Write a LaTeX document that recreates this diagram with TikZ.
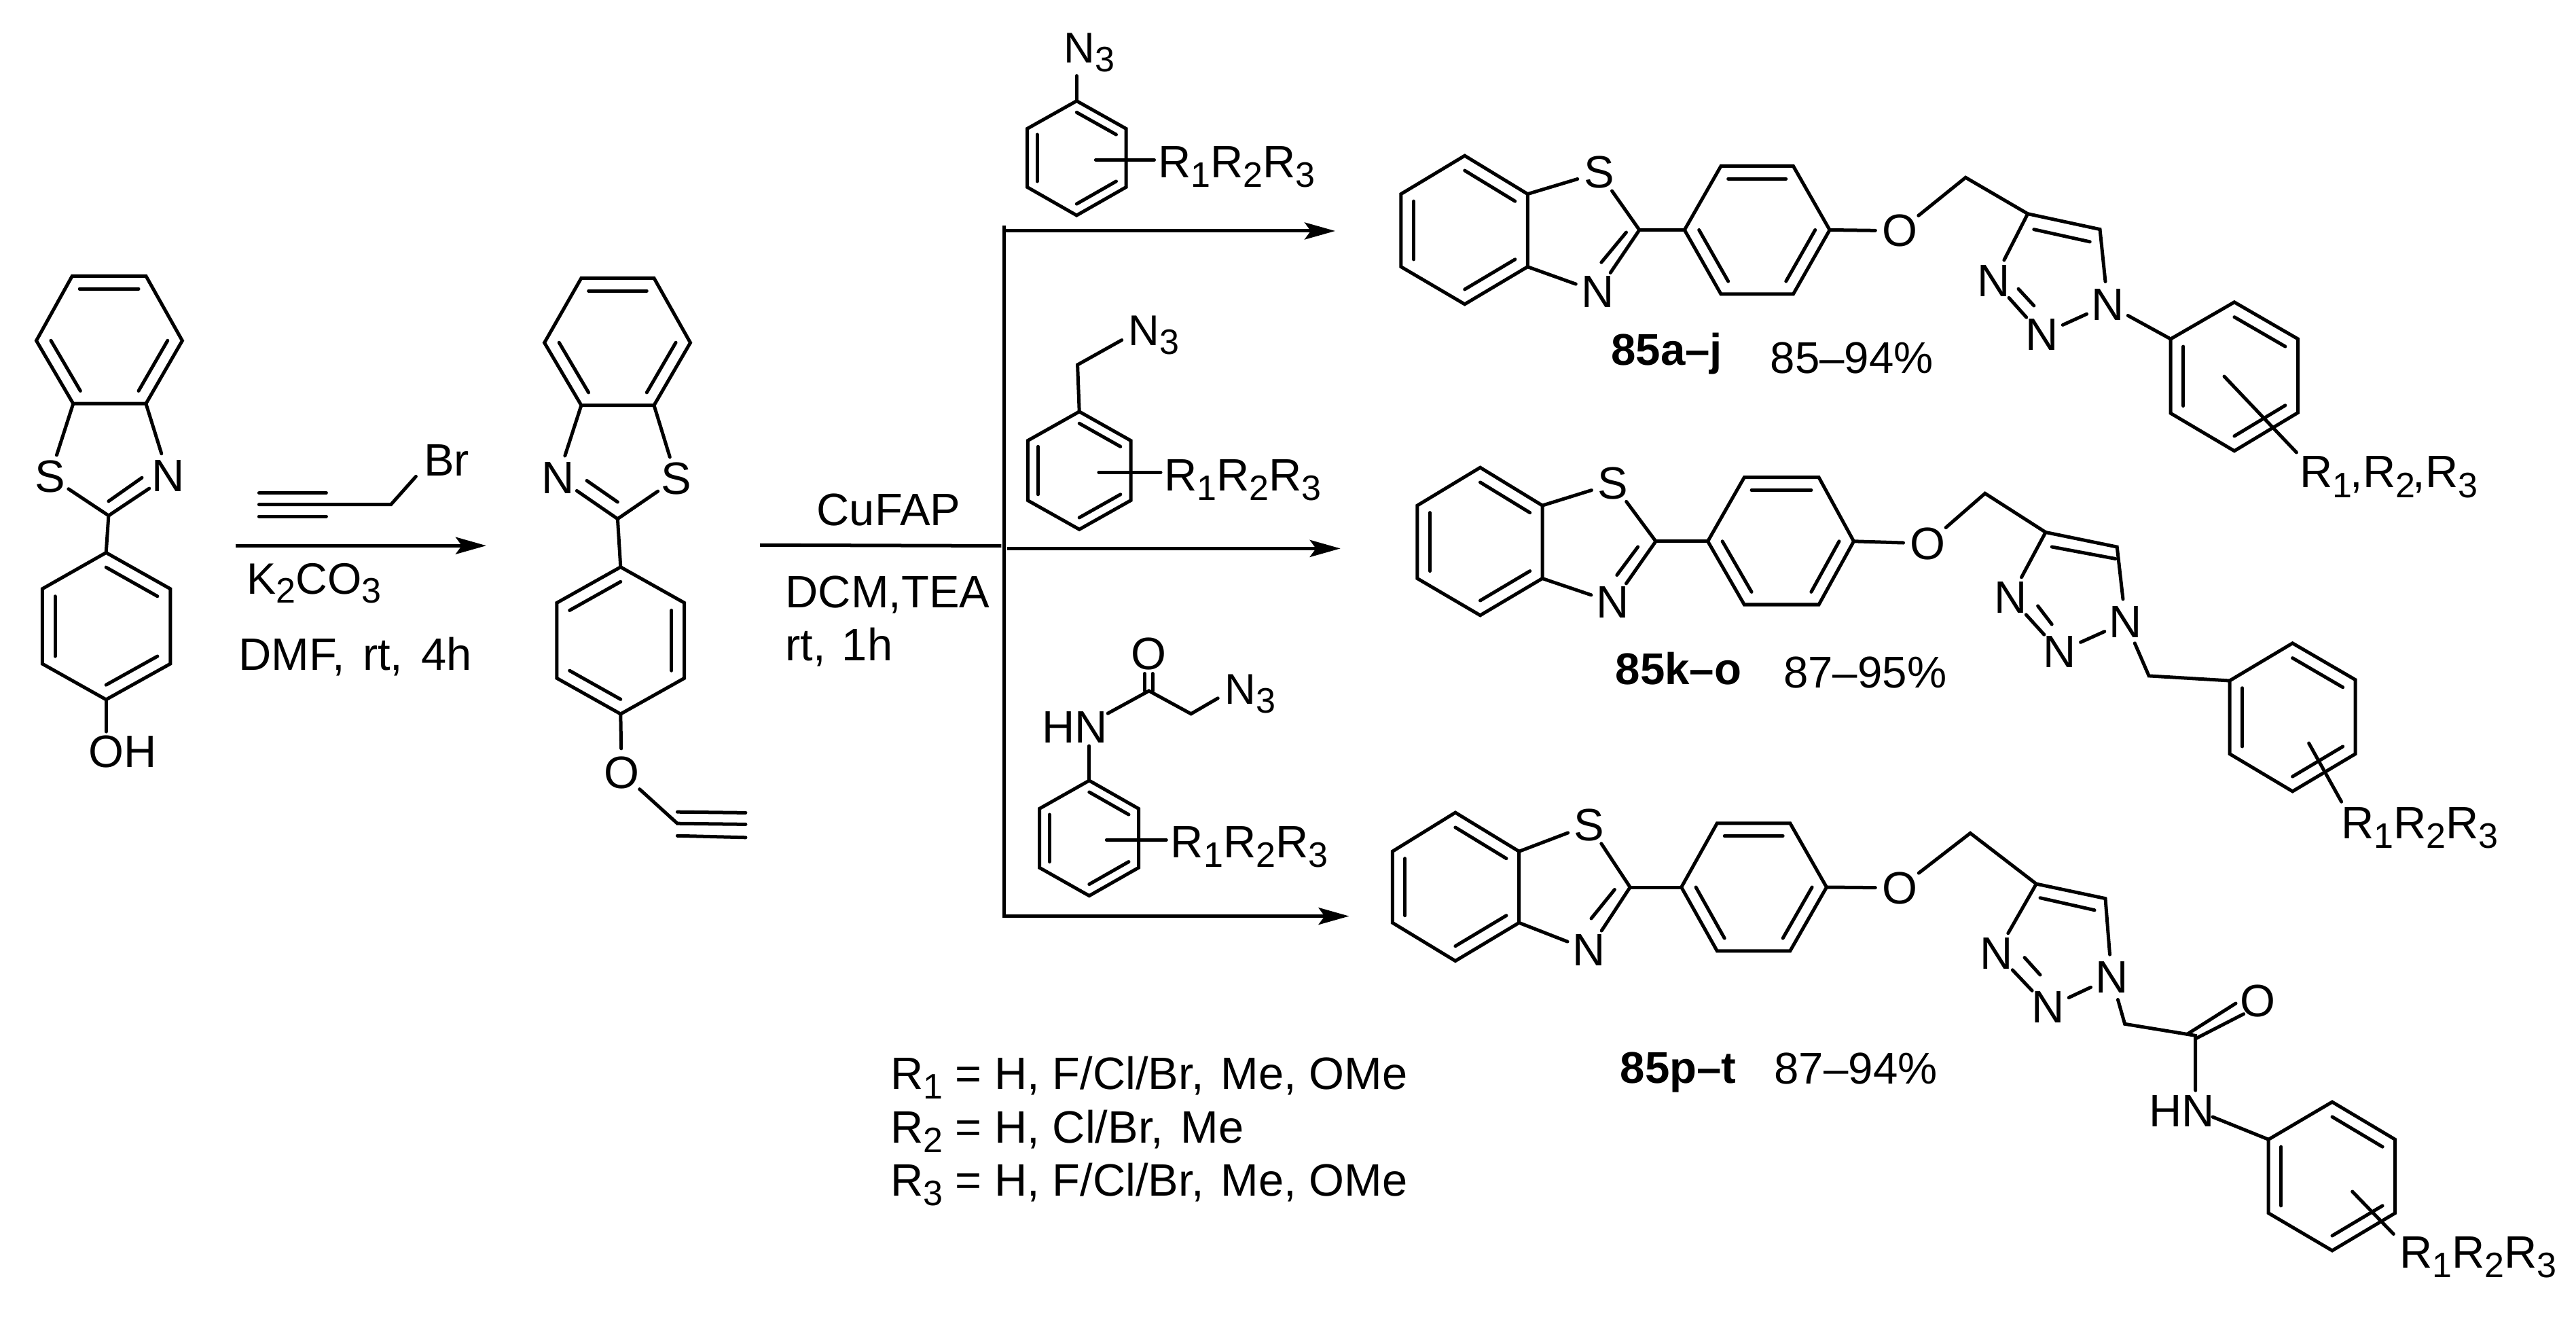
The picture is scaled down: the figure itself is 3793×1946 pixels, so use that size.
\documentclass[tikz,border=0pt]{standalone}
\usepackage{fontspec}
\setmainfont{Liberation Sans}
\usetikzlibrary{calc,arrows.meta}
\newcommand{\mainfs}{\fontsize{19}{21}\selectfont}
\newcommand{\azfs}{\fontsize{18}{20}\selectfont}
\newcommand{\yieldfs}{\fontsize{18.6}{20}\selectfont}
\newcommand{\sbs}[1]{\raisebox{-.21em}{\fontsize{14.8}{15}\selectfont #1}}
\newcommand{\Rtri}{R\sbs{1}R\sbs{2}R\sbs{3}}
\newcommand{\Nthree}{{\azfs N\sbs{3}}}
% six ring: name, then six vertices in order round the ring
\newcommand{\hexa}[7]{%
  \coordinate (#11) at #2; \coordinate (#12) at #3; \coordinate (#13) at #4;
  \coordinate (#14) at #5; \coordinate (#15) at #6; \coordinate (#16) at #7;
  \coordinate (#1c) at ($(#11)!.5!(#14)$);
  \draw[bond] (#11)--(#12)--(#13)--(#14)--(#15)--(#16)--cycle;}
\newcommand{\ringdb}[3]{\draw[bond] ($(#1#2)!.2!(#1c)$) -- ($(#1#3)!.2!(#1c)$);}
\tikzset{
  bond/.style={line width=0.05cm,line join=miter,line cap=round},
  arr/.style={line width=0.05cm,-{Stealth[length=0.45cm,width=0.25cm,inset=0.09cm]}},
  plain/.style={line width=0.05cm},
  atom/.style={circle,inner sep=0pt,minimum size=0.64cm,font=\mainfs},
  lbl/.style={anchor=base west,inner sep=0pt,font=\mainfs},
  yld/.style={anchor=base west,inner sep=0pt,font=\yieldfs},
}
\begin{document}
\begin{tikzpicture}[x=0.01cm,y=-0.01cm]
\useasboundingbox (0,0) rectangle (3793,1946);

% ---------- starting phenol
\hexa{ma}{(106.3,406.3)}{(214.9,406.3)}{(268.4,501.5)}{(214.9,594.2)}{(107.8,594.2)}{(53.5,501.5)}
\ringdb{ma}{1}{2}\ringdb{ma}{3}{4}\ringdb{ma}{5}{6}
\node[atom] (maS) at (73.3,701.4) {S};
\node[atom] (maN) at (247.9,700.2) {N};
\coordinate (maC) at (159.9,759);
\draw[bond] (ma5) -- (maS); \draw[bond] (ma4) -- (maN);
\draw[bond] (maS) -- (maC) -- (maN);
\coordinate (maI1) at (159.9,737.8); \coordinate (maI2) at (209,703.2);
\draw[bond] (maI1) -- (maI2);
\hexa{mb}{(156.2,813.5)}{(250.8,866.8)}{(250.8,977.1)}{(156.2,1029.8)}{(62.3,977.1)}{(62.3,866.8)}
\ringdb{mb}{1}{2}\ringdb{mb}{3}{4}\ringdb{mb}{5}{6}
\draw[bond] (maC) -- (mb1);
\node[lbl] (maOH) at (130,1129) {OH};
\coordinate (maOe) at (156.2,1077);
\draw[bond] (mb4) -- (maOe);

% ---------- propargyl bromide and first arrow
\node[lbl] (brN) at (623.4,701) {Br};
\coordinate (brC) at (575.7,742.6); \coordinate (brE) at (612.4,701.4);
\coordinate (brT) at (381.4,742.6);
\coordinate (brU1) at (381.4,725.6); \coordinate (brU2) at (480.4,725.6);
\coordinate (brL1) at (381.4,760.2); \coordinate (brL2) at (480.4,760.2);
\draw[bond] (brE) -- (brC) -- (brT);
\draw[bond] (brU1) -- (brU2); \draw[bond] (brL1) -- (brL2);
\coordinate (ar1a) at (346.9,803.2); \coordinate (ar1b) at (716,803.2);
\draw[arr] (ar1a) -- (ar1b);
\node[lbl,font=\fontsize{18.4}{20}\selectfont] (k2) at (363,874) {K\sbs{2}CO\sbs{3}};
\node[lbl] (dmf) at (351,986.2) {DMF,\hspace{.12em} rt,\hspace{.12em} 4h};

% ---------- alkyne intermediate
\hexa{na}{(855.9,409.4)}{(963,409.4)}{(1016.5,504.5)}{(963,596.6)}{(855.9,596.6)}{(801.6,504.5)}
\ringdb{na}{1}{2}\ringdb{na}{3}{4}\ringdb{na}{5}{6}
\node[atom] (naN) at (821.4,703.2) {N};
\node[atom] (naS) at (996,704.4) {S};
\coordinate (naC) at (909.4,763.8);
\draw[bond] (na5) -- (naN); \draw[bond] (na4) -- (naS);
\draw[bond] (naN) -- (naC) -- (naS);
\coordinate (naI1) at (864,707.5); \coordinate (naI2) at (909.4,739);
\draw[bond] (naI1) -- (naI2);
\hexa{nb}{(913.8,834.7)}{(1007.7,887.4)}{(1007.7,998.3)}{(913.8,1051)}{(819.9,998.3)}{(819.9,887.4)}
\ringdb{nb}{6}{1}\ringdb{nb}{2}{3}\ringdb{nb}{4}{5}
\draw[bond] (naC) -- (nb1);
\node[atom] (naO) at (915.3,1137.6) {O};
\coordinate (naT) at (997.4,1212.2); \coordinate (naTe) at (1097.9,1213.4);
\coordinate (naU1) at (997.4,1195.2); \coordinate (naU2) at (1097.9,1196.4);
\coordinate (naL1) at (997.4,1230.3); \coordinate (naL2) at (1097.9,1232.8);
\draw[bond] (nb4) -- (naO); \draw[bond] (naO) -- (naT) -- (naTe);
\draw[bond] (naU1) -- (naU2); \draw[bond] (naL1) -- (naL2);

% ---------- branching arrows
\coordinate (mn1) at (1119,802.3); \coordinate (mn2) at (1474.4,803.5);
\draw[plain] (mn1) -- (mn2);
\coordinate (vt) at (1478.8,334.8); \coordinate (vb) at (1478.8,1348.6);
\draw[plain,line cap=rect] (vt) -- (vb);
\coordinate (a1s) at (1478.8,340); \coordinate (a1e) at (1966,340);
\coordinate (a2s) at (1483.3,807.4); \coordinate (a2e) at (1973.7,807.4);
\coordinate (a3e) at (1986.5,1348.6);
\draw[arr] (a1s) -- (a1e); \draw[arr] (a2s) -- (a2e); \draw[arr] (vb) -- (a3e);
\node[lbl] (cu) at (1202,773.6) {CuFAP};
\node[lbl] (dcm) at (1156,894.8) {DCM,TEA};
\node[lbl] (rt) at (1156,972.6) {rt,\hspace{.08em} 1h};

% ---------- phenyl azide
\hexa{az}{(1585.3,148.6)}{(1658,189.4)}{(1658,275.5)}{(1585.3,317)}{(1512.6,275.5)}{(1512.6,189.4)}
\ringdb{az}{1}{2}\ringdb{az}{3}{4}\ringdb{az}{5}{6}
\node[lbl] (azN) at (1565.6,92.5) {\Nthree};
\coordinate (azE) at (1585.3,111.6);
\draw[bond] (az1) -- (azE);
\coordinate (azS) at (1613.4,235.3); \coordinate (azT) at (1699.5,235.3);
\draw[bond] (azS) -- (azT);
\node[lbl] (azR) at (1704.6,261.5) {\Rtri};

% ---------- benzyl azide
\hexa{bz}{(1589.2,605.9)}{(1665,648.6)}{(1665,736.6)}{(1589.2,779.3)}{(1513.3,736.6)}{(1513.3,648.6)}
\ringdb{bz}{1}{2}\ringdb{bz}{3}{4}\ringdb{bz}{5}{6}
\node[lbl] (bzN) at (1661,508.3) {\Nthree};
\coordinate (bzC) at (1586.6,537); \coordinate (bzE) at (1651.7,500.6);
\draw[bond] (bz1) -- (bzC) -- (bzE);
\coordinate (bzS) at (1617.9,695.2); \coordinate (bzT) at (1709,695.2);
\draw[bond] (bzS) -- (bzT);
\node[lbl] (bzR) at (1713.5,722.6) {\Rtri};

% ---------- azidoacetanilide
\hexa{am}{(1603.8,1149)}{(1676.5,1190.4)}{(1676.5,1277.2)}{(1603.8,1318.6)}{(1530.5,1277.2)}{(1530.5,1190.4)}
\ringdb{am}{1}{2}\ringdb{am}{3}{4}\ringdb{am}{5}{6}
\node[lbl] (amHN) at (1533.7,1093.5) {HN};
\node[atom] (amO) at (1691.2,962) {O};
\node[lbl] (amN) at (1802.8,1036) {\Nthree};
\coordinate (amC) at (1691.8,1017); \coordinate (amCH) at (1753.7,1050.8);
\coordinate (amNb) at (1631.2,1050.1); \coordinate (amNa) at (1603.8,1098);
\coordinate (amE) at (1793.2,1027.8);
\draw[bond] (am1) -- (amNa);
\draw[bond] (amNb) -- (amC) -- (amCH) -- (amE);
\coordinate (amO1) at (1685.5,991.5); \coordinate (amO2) at (1685.5,1017);
\coordinate (amO3) at (1697,991.5); \coordinate (amO4) at (1697,1017);
\draw[bond] (amO1) -- (amO2); \draw[bond] (amO3) -- (amO4);
\coordinate (amS) at (1629.3,1236.4); \coordinate (amT) at (1717.3,1236.4);
\draw[bond] (amS) -- (amT);
\node[lbl] (amR) at (1723.1,1262.5) {\Rtri};

% ---------- R definitions
\node[lbl] (rA) at (1310.5,1603.7) {R\sbs{1} = H, F/Cl/Br,\hspace{.1em} Me, OMe};
\node[lbl] (rB) at (1310.5,1682) {R\sbs{2} = H, Cl/Br,\hspace{.1em} Me};
\node[lbl] (rC) at (1310.5,1760) {R\sbs{3} = H, F/Cl/Br,\hspace{.1em} Me, OMe};

% ---------- product 85a-j
\hexa{pa}{(2156.7,229.2)}{(2249.3,285.6)}{(2249.3,392.7)}{(2156.7,447.8)}{(2062.9,392.7)}{(2062.9,285.6)}
\ringdb{pa}{1}{2}\ringdb{pa}{3}{4}\ringdb{pa}{5}{6}
\node[atom] (paS) at (2354.5,254) {S};
\node[atom] (paN) at (2352.2,429.6) {N};
\coordinate (paC) at (2413.9,338.5);
\draw[bond] (pa2) -- (paS) -- (paC) -- (paN) -- (pa3);
\coordinate (paI1) at (2394.5,342); \coordinate (paI2) at (2357.9,386.2);
\draw[bond] (paI1) -- (paI2);
\hexa{pb}{(2480.3,338.5)}{(2534,244.4)}{(2640.4,244.4)}{(2694.1,338.5)}{(2640.4,433)}{(2534,433)}
\ringdb{pb}{2}{3}\ringdb{pb}{1}{6}\ringdb{pb}{4}{5}
\draw[bond] (paC) -- (pb1);
\node[atom] (paO) at (2797,339.8) {O};
\coordinate (paM) at (2894.2,261.3);
\coordinate (paC4) at (2985.7,314.7); \coordinate (paC5) at (3092,337.6);
\node[atom] (paN1) at (3103.5,448.2) {N};
\node[atom] (paN2) at (3006.3,492.4) {N};
\node[atom] (paN3) at (2935.4,413.1) {N};
\draw[bond] (pb4) -- (paO) -- (paM) -- (paC4) -- (paC5) -- (paN1);
\draw[bond] (paC4) -- (paN3) -- (paN2) -- (paN1);
\coordinate (paJ1) at (2994.8,337.7); \coordinate (paJ2) at (3077.2,355.9);
\draw[bond] (paJ1) -- (paJ2);
\coordinate (paK1) at (2972,425.3); \coordinate (paK2) at (2994.8,450);
\draw[bond] (paK1) -- (paK2);
\hexa{pc}{(3289.9,444.8)}{(3383.6,499)}{(3383.6,607.4)}{(3289.9,663.8)}{(3196.1,608.3)}{(3196.1,499)}
\ringdb{pc}{1}{2}\ringdb{pc}{3}{4}\ringdb{pc}{5}{6}
\draw[bond] (paN1) -- (pc6);
\coordinate (paS1) at (3275,554.1); \coordinate (paS2) at (3381.4,666);
\draw[bond] (paS1) -- (paS2);
\node[lbl] (paR) at (3385.9,718) {R\sbs{1}\hspace{-.05em},R\sbs{2}\hspace{-.05em},R\sbs{3}};
\node[yld] (paL) at (2371.6,538) {\bfseries 85a–j};
\node[yld] (paY) at (2606,550) {85–94\%};

% ---------- product 85k-o
\hexa{qa}{(2179.5,688.2)}{(2271,744.1)}{(2271,851.5)}{(2179.5,905.8)}{(2086.9,851.5)}{(2086.9,744.1)}
\ringdb{qa}{1}{2}\ringdb{qa}{3}{4}\ringdb{qa}{5}{6}
\node[atom] (qaS) at (2375,711.8) {S};
\node[atom] (qaN) at (2375,886.7) {N};
\coordinate (qaC) at (2438,796.8);
\draw[bond] (qa2) -- (qaS) -- (qaC) -- (qaN) -- (qa3);
\coordinate (qaI1) at (2380.8,846.5); \coordinate (qaI2) at (2411.7,805);
\draw[bond] (qaI1) -- (qaI2);
\hexa{qb}{(2514.6,796.8)}{(2568.3,702.7)}{(2678.1,702.7)}{(2729.5,796.8)}{(2678.1,890)}{(2568.3,890)}
\ringdb{qb}{2}{3}\ringdb{qb}{1}{6}\ringdb{qb}{4}{5}
\draw[bond] (qaC) -- (qb1);
\node[atom] (qaO) at (2838.2,800.1) {O};
\coordinate (qaM) at (2922.8,726.3);
\coordinate (qaC4) at (3012,783.5); \coordinate (qaC5) at (3117.2,805.1);
\node[atom] (qaN1) at (3129.8,915.7) {N};
\node[atom] (qaN2) at (3032.6,959.3) {N};
\node[atom] (qaN3) at (2960.5,879.7) {N};
\draw[bond] (qb4) -- (qaO) -- (qaM) -- (qaC4) -- (qaC5) -- (qaN1);
\draw[bond] (qaC4) -- (qaN3) -- (qaN2) -- (qaN1);
\coordinate (qaJ1) at (3021.2,805); \coordinate (qaJ2) at (3114.9,822.5);
\draw[bond] (qaJ1) -- (qaJ2);
\coordinate (qaK1) at (3000.6,892); \coordinate (qaK2) at (3021.2,919);
\draw[bond] (qaK1) -- (qaK2);
\hexa{qc}{(3375.6,946.8)}{(3468.2,1000.7)}{(3468.2,1109.7)}{(3375.6,1164.9)}{(3283,1109.7)}{(3283,1002)}
\ringdb{qc}{1}{2}\ringdb{qc}{3}{4}\ringdb{qc}{5}{6}
\coordinate (qaM2) at (3164.1,994.9);
\draw[bond] (qaN1) -- (qaM2) -- (qc6);
\coordinate (qaS1) at (3399.6,1094); \coordinate (qaS2) at (3447.6,1180.2);
\draw[bond] (qaS1) -- (qaS2);
\node[lbl] (qaR) at (3446.5,1234.9) {\Rtri};
\node[yld] (qaL) at (2378,1007.4) {\bfseries 85k–o};
\node[yld] (qaY) at (2625.5,1012.3) {87–95\%};

% ---------- product 85p-t
\hexa{ra}{(2142.9,1196.1)}{(2236.7,1253.3)}{(2236.7,1358.3)}{(2142.9,1414.5)}{(2050.3,1358.3)}{(2050.3,1253.3)}
\ringdb{ra}{1}{2}\ringdb{ra}{3}{4}\ringdb{ra}{5}{6}
\node[atom] (raS) at (2339.6,1214.2) {S};
\node[atom] (raN) at (2339.6,1398.4) {N};
\coordinate (raC) at (2400.2,1306);
\draw[bond] (ra2) -- (raS) -- (raC) -- (raN) -- (ra3);
\coordinate (raI1) at (2343,1352); \coordinate (raI2) at (2377.4,1309.5);
\draw[bond] (raI1) -- (raI2);
\hexa{rb}{(2475.7,1306)}{(2528.3,1211.8)}{(2635.8,1211.8)}{(2689.5,1306)}{(2635.8,1399.8)}{(2528.3,1399.8)}
\ringdb{rb}{2}{3}\ringdb{rb}{1}{6}\ringdb{rb}{4}{5}
\draw[bond] (raC) -- (rb1);
\node[atom] (raO) at (2797,1307) {O};
\coordinate (raM) at (2901.1,1226.4);
\coordinate (raC4) at (2998.3,1301.1); \coordinate (raC5) at (3100,1322.6);
\node[atom] (raN1) at (3109.2,1438.9) {N};
\node[atom] (raN2) at (3015.4,1482.9) {N};
\node[atom] (raN3) at (2940,1403.2) {N};
\draw[bond] (rb4) -- (raO) -- (raM) -- (raC4) -- (raC5) -- (raN1);
\draw[bond] (raC4) -- (raN3) -- (raN2) -- (raN1);
\coordinate (raJ1) at (3004,1321.7); \coordinate (raJ2) at (3084,1339.7);
\draw[bond] (raJ1) -- (raJ2);
\coordinate (raK1) at (2981.1,1409.6); \coordinate (raK2) at (3004,1435);
\draw[bond] (raK1) -- (raK2);
\coordinate (raM2) at (3128.6,1507.3); \coordinate (raCO) at (3232.7,1524.4);
\coordinate (raNt) at (3232.7,1605);
\draw[bond] (raN1) -- (raM2) -- (raCO) -- (raNt);
\node[atom] (raO2) at (3324.2,1473.1) {O};
\coordinate (raD1) at (3232.7,1529); \coordinate (raD2) at (3303.6,1492.6);
\coordinate (raD3) at (3221,1522); \coordinate (raD4) at (3292,1477);
\draw[bond] (raD1) -- (raD2); \draw[bond] (raD3) -- (raD4);
\node[lbl] (raHN) at (3164,1658.7) {HN};
\hexa{rc}{(3434,1622.1)}{(3526.6,1677.3)}{(3526.6,1785.7)}{(3434,1840.9)}{(3340.2,1785.7)}{(3340.2,1677.3)}
\ringdb{rc}{1}{2}\ringdb{rc}{3}{4}\ringdb{rc}{5}{6}
\coordinate (raNe) at (3257.9,1644.1);
\draw[bond] (raNe) -- (rc6);
\coordinate (raS1) at (3463.7,1754); \coordinate (raS2) at (3524.3,1816.5);
\draw[bond] (raS1) -- (raS2);
\node[lbl] (raR) at (3532.3,1866.3) {\Rtri};
\node[yld] (raL) at (2385,1594.3) {\bfseries 85p–t};
\node[yld] (raY) at (2611.8,1595.2) {87–94\%};
\end{tikzpicture}
\end{document}
